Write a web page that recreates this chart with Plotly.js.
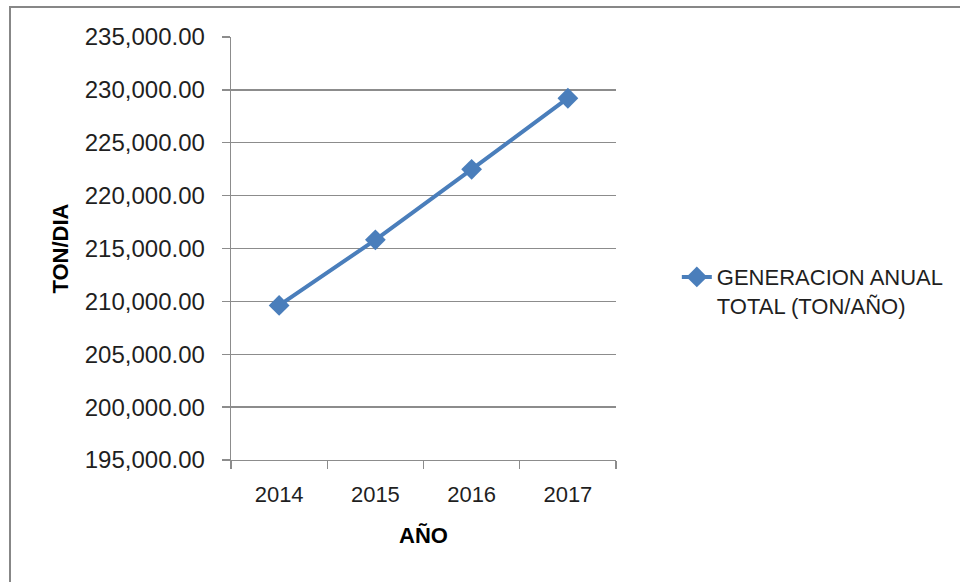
<!DOCTYPE html>
<html>
<head>
<meta charset="utf-8">
<script src="https://cdn.plot.ly/plotly-3.0.1.min.js"></script>
<style>
  html, body { margin: 0; padding: 0; background: #fff; }
  #wrap { position: relative; width: 960px; height: 582px; overflow: hidden; }
  #chart { width: 960px; height: 582px; }
  #frame { position: absolute; left: 9px; top: 6px; width: 960px; height: 600px;
           border-top: 2px solid #878787; border-left: 2px solid #878787; pointer-events: none; }
</style>
</head>
<body>
<div id="wrap">
  <div id="chart"></div>
  <div id="frame"></div>
</div>
<script>
const years = ["2014", "2015", "2016", "2017"];
const generacion = [209620, 215820, 222490, 229210];
const seriesName = "GENERACION ANUAL<br>TOTAL (TON/AÑO)";
const xTitle = "AÑO";
const yTitle = "TON/DIA";

const FONT = "'Liberation Sans', Arial, sans-serif";
const BLUE = "#4a7ebb";
const GRID = "#8c8c8c";

const trace = {
  x: years,
  y: generacion,
  type: "scatter",
  mode: "lines+markers",
  name: seriesName,
  line: { color: BLUE, width: 4 },
  marker: { symbol: "diamond", size: 16, color: BLUE }
};

const layout = {
  width: 960,
  height: 582,
  margin: { l: 231, r: 343, t: 37, b: 122 },
  paper_bgcolor: "#fff",
  plot_bgcolor: "#fff",
  font: { family: FONT, color: "#1f1f1f", size: 22 },
  showlegend: true,
  legend: {
    x: 1.155, y: 0.482, xanchor: "left", yanchor: "top",
    valign: "top",
    font: { family: FONT, size: 22, color: "#1f1f1f" },
    bgcolor: "rgba(0,0,0,0)"
  },
  xaxis: {
    type: "category",
    range: [-0.5, 3.5],
    showgrid: false,
    showline: true, linecolor: GRID, linewidth: 1.3,
    ticks: "outside", tickson: "boundaries", ticklen: 8, tickcolor: GRID, tickwidth: 1.3,
    ticklabelstandoff: 14,
    tickfont: { family: FONT, size: 22, color: "#1f1f1f" },
    title: { text: "<b>" + xTitle + "</b>", font: { family: FONT, size: 22, color: "#000" }, standoff: 22 },
    automargin: false,
    zeroline: false
  },
  yaxis: {
    range: [195000, 235000],
    dtick: 5000, tick0: 195000,
    tickformat: ",.2f",
    showgrid: true, gridcolor: GRID, gridwidth: 1.3,
    showline: true, linecolor: GRID, linewidth: 1.3,
    ticks: "outside", ticklen: 8, tickcolor: GRID, tickwidth: 1.3,
    ticklabelstandoff: 12,
    tickfont: { family: FONT, size: 24, color: "#1f1f1f" },
    title: { text: "<b>" + yTitle + "</b>", font: { family: FONT, size: 22, color: "#000" }, standoff: 10 },
    automargin: false,
    zeroline: false
  }
};

Plotly.newPlot("chart", [trace], layout, { displayModeBar: false, staticPlot: true });
</script>
</body>
</html>
